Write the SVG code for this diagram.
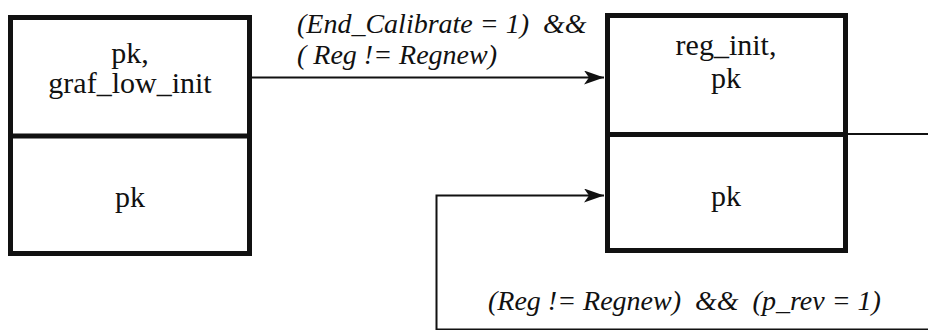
<svg xmlns="http://www.w3.org/2000/svg" width="928" height="330" viewBox="0 0 928 330">
  <style>
    .box { fill: #ffffff; stroke: #111111; stroke-width: 5; }
    .div { stroke: #111111; stroke-width: 5; }
    .node { font-family: 'Liberation Serif', serif; font-size: 30px; fill: #111111; text-anchor: middle; }
    .cond { font-family: 'Liberation Serif', serif; font-style: italic; font-size: 28px; fill: #111111; white-space: pre; }
    .wire { fill: none; stroke: #111111; stroke-width: 2; }
  </style>
  <defs>
    <!-- barbed arrowhead, tip at the path end -->
    <marker id="arrow" markerUnits="userSpaceOnUse" markerWidth="22" markerHeight="16" refX="20" refY="7" orient="auto">
      <path d="M0,0 L20,7 L0,14 L5,7 Z" fill="#111111"/>
    </marker>
  </defs>
  <rect width="928" height="330" fill="#ffffff"/>

  <g id="connectors">
    <path class="wire" d="M252,77.5 H604" marker-end="url(#arrow)"/>
    <path class="wire" d="M848,134 H928"/>
    <path class="wire" d="M928,329.5 H436.5 V195.5 H604" marker-end="url(#arrow)"/>
  </g>

  <g id="state-graf-low-init">
    <rect class="box" x="10.5" y="17.5" width="239" height="236"/>
    <line class="div" x1="10.5" y1="136" x2="249.5" y2="136"/>
    <text class="node" x="130" y="63">pk,</text>
    <text class="node" x="130" y="93">graf_low_init</text>
    <text class="node" x="130" y="207">pk</text>
  </g>

  <g id="state-reg-init">
    <rect class="box" x="607.5" y="15.5" width="238" height="235"/>
    <line class="div" x1="607.5" y1="134.5" x2="845.5" y2="134.5"/>
    <text class="node" x="726" y="55">reg_init,</text>
    <text class="node" x="726" y="88">pk</text>
    <text class="node" x="726" y="206">pk</text>
  </g>

  <g id="labels">
    <text class="cond" x="297" y="33">(End_Calibrate = 1)  &amp;&amp;</text>
    <text class="cond" x="297" y="64">( Reg != Regnew)</text>
    <text class="cond" x="488" y="310">(Reg != Regnew)  &amp;&amp;  (p_rev = 1)</text>
  </g>
</svg>
